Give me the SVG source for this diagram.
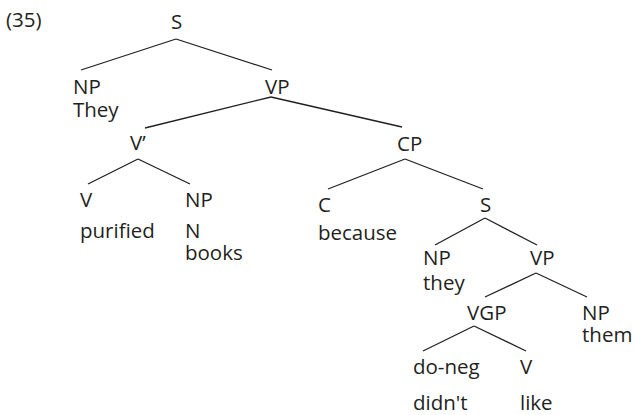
<svg xmlns="http://www.w3.org/2000/svg" width="635" height="415" viewBox="0 0 635 415">
<style>
text{font-family:"Open Sans","Noto Sans",sans-serif;font-size:20.5px;fill:#231f20}
.e line{stroke:#231f20;stroke-width:1.3}
</style>
<rect width="635" height="415" fill="#fff"/>
<text x="6" y="27">(35)</text>
<g class="e" id="edges">
<line x1="176" y1="39" x2="81" y2="70"/>
<line x1="176" y1="39" x2="272" y2="70"/>
<line x1="271" y1="97" x2="145" y2="128"/>
<line x1="271" y1="97" x2="402" y2="127"/>
<line x1="138" y1="159" x2="88" y2="184"/>
<line x1="138" y1="159" x2="190" y2="184"/>
<line x1="405" y1="159" x2="328" y2="189"/>
<line x1="405" y1="159" x2="483" y2="189"/>
<line x1="485" y1="218" x2="435" y2="245"/>
<line x1="485" y1="218" x2="537" y2="245"/>
<line x1="536" y1="273" x2="485" y2="297"/>
<line x1="536" y1="273" x2="587" y2="297"/>
<line x1="474" y1="326" x2="423" y2="351"/>
<line x1="474" y1="326" x2="526" y2="351"/>
</g>
<g id="S"><text x="171" y="29">S</text></g>
<g id="NP1"><text x="73" y="94">NP</text><text x="73" y="117">They</text></g>
<g id="VP1"><text x="265" y="94">VP</text></g>
<g id="Vbar"><text x="130" y="150">V’</text></g>
<g id="V1"><text x="80" y="207">V</text><text x="80" y="238">purified</text></g>
<g id="NP2"><text x="185" y="207">NP</text><text x="185" y="238">N</text><text x="185" y="260">books</text></g>
<g id="CP"><text x="397" y="151">CP</text></g>
<g id="C"><text x="318" y="212">C</text><text x="318" y="240">because</text></g>
<g id="S2"><text x="480" y="212">S</text></g>
<g id="NP3"><text x="423" y="265">NP</text><text x="423" y="290">they</text></g>
<g id="VP2"><text x="530" y="265">VP</text></g>
<g id="VGP"><text x="467" y="320">VGP</text></g>
<g id="NP4"><text x="582" y="320">NP</text><text x="582" y="342">them</text></g>
<g id="doneg"><text x="413" y="374">do-neg</text><text x="413" y="410">didn't</text></g>
<g id="V2"><text x="520" y="374">V</text><text x="520" y="410">like</text></g>
</svg>
